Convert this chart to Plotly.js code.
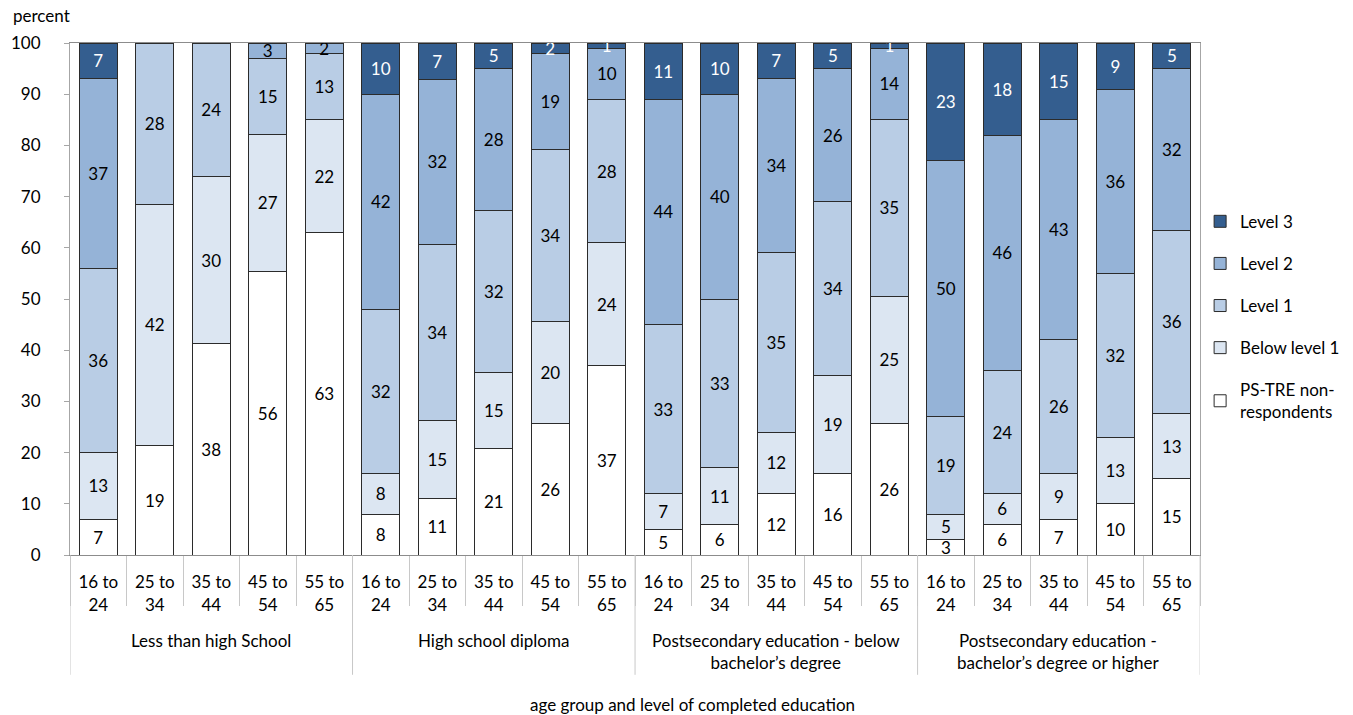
<!DOCTYPE html>
<html>
<head>
<meta charset="utf-8">
<script src="https://cdn.plot.ly/plotly-3.0.1.min.js"></script>
<style>html,body{margin:0;padding:0;background:#fff;}#chart{width:1353px;height:715px;}</style>
</head>
<body>
<div id="chart"></div>
<script>
const groups = ["Less than high School", "High school diploma", "Postsecondary education - below<br>bachelor’s degree", "Postsecondary education -<br>bachelor’s degree or higher"];
const ages = ["16 to<br>24", "25 to<br>34", "35 to<br>44", "45 to<br>54", "55 to<br>65"];

const nonResp = [7, 19, 38, 56, 63, 8, 11, 21, 26, 37, 5, 6, 12, 16, 26, 3, 6, 7, 10, 15];
const below1  = [13, 42, 30, 27, 22, 8, 15, 15, 20, 24, 7, 11, 12, 19, 25, 5, 6, 9, 13, 13];
const level1  = [36, 28, 24, 15, 13, 32, 34, 32, 34, 28, 33, 33, 35, 34, 35, 19, 24, 26, 32, 36];
const level2  = [37, null, null, 3, 2, 42, 32, 28, 19, 10, 44, 40, 34, 26, 14, 50, 46, 43, 36, 32];
const level3  = [7, null, null, null, null, 10, 7, 5, 2, 1, 11, 10, 7, 5, 1, 23, 18, 15, 9, 5];

const seriesNames = ["PS-TRE non-<br>respondents", "Below level 1", "Level 1", "Level 2", "Level 3"];
const seriesValues = [nonResp, below1, level1, level2, level3];
const seriesColors = ["#ffffff", "#dce6f2", "#b9cde5", "#95b3d7", "#345e8f"];
const textColors = ["#000000", "#000000", "#000000", "#000000", "#ffffff"];

// one position per bar (group-major order), labelled by age
const xPos = [], tickText = [];
groups.forEach((g, gi) => ages.forEach((a, ai) => { xPos.push(gi * ages.length + ai); tickText.push(a); }));
const nBars = xPos.length;

const FONT = "Lato, 'Open Sans', sans-serif";
const FS = 17;

const traces = seriesValues.map((vals, i) => ({
  type: "bar",
  name: seriesNames[i],
  legendgroup: "g" + i,
  legendrank: 1000 - i,
  x: xPos,
  y: vals,
  text: vals.map(v => v == null ? "" : String(v)),
  textposition: "inside",
  insidetextanchor: "middle",
  textangle: 0,
  insidetextfont: {color: textColors[i], size: FS, family: FONT},
  marker: {color: seriesColors[i], line: {color: "#2b2b2b", width: 1}},
  hoverinfo: "skip"
}));

// group dividers (layout only) and group labels
const shapes = [];
for (let g = 0; g <= groups.length; g++) {
  const xb = g * ages.length - 0.5;
  shapes.push({type: "line", xref: "x", yref: "paper", x0: xb, x1: xb, y0: 0, y1: -0.234, line: {color: "#c8c8c8", width: 1}});
}
const annotations = groups.map((g, gi) => ({
  text: g, xref: "x", yref: "paper", x: gi * ages.length + (ages.length - 1) / 2, y: -0.143,
  xanchor: "center", yanchor: "top", showarrow: false, font: {size: FS, family: FONT}
}));
annotations.push(
  {text: "percent", xref: "paper", yref: "paper", x: -0.052, y: 1.0, yshift: 28, xanchor: "left", yanchor: "middle", showarrow: false, font: {size: FS, family: FONT}},
  {text: "age group and level of completed education", xref: "paper", yref: "paper", x: 0.551, y: 0, yshift: -149, xanchor: "center", yanchor: "middle", showarrow: false, font: {size: FS, family: FONT}}
);

const layout = {
  width: 1353, height: 715,
  margin: {l: 70, r: 148, t: 43, b: 160},
  paper_bgcolor: "#fff", plot_bgcolor: "#fff",
  font: {family: FONT, size: FS, color: "#000"},
  barmode: "stack",
  barnorm: "percent",
  bargap: 0.33,
  showlegend: true,
  uniformtext: {minsize: FS, mode: "show"},
  legend: {
    xref: "container", yref: "container",
    x: 0.887, xanchor: "left", y: 0.715, yanchor: "top",
    traceorder: "grouped",
    tracegroupgap: 17,
    font: {size: FS, family: FONT},
    bgcolor: "rgba(0,0,0,0)"
  },
  xaxis: {
    range: [-0.5, nBars - 0.5],
    tickmode: "array", tickvals: xPos, ticktext: tickText,
    ticks: "", ticklabelstandoff: 12,
    minor: {tickmode: "linear", tick0: -0.5, dtick: 1, ticks: "outside", ticklen: 50, tickcolor: "#c8c8c8", showgrid: false},
    showline: true, linecolor: "#8c8c8c", linewidth: 1,
    mirror: true,
    tickfont: {size: FS, family: FONT},
    showgrid: false, zeroline: false
  },
  yaxis: {
    range: [0, 100], dtick: 10,
    showline: true, linecolor: "#a6a6a6", linewidth: 1,
    mirror: true,
    ticks: "outside", ticklen: 5, tickcolor: "#a6a6a6",
    ticklabelstandoff: 20,
    showgrid: false, zeroline: false,
    tickfont: {size: FS, family: FONT}
  },
  shapes: shapes,
  annotations: annotations
};

Plotly.newPlot("chart", traces, layout, {displayModeBar: false, staticPlot: true});
</script>
</body>
</html>
